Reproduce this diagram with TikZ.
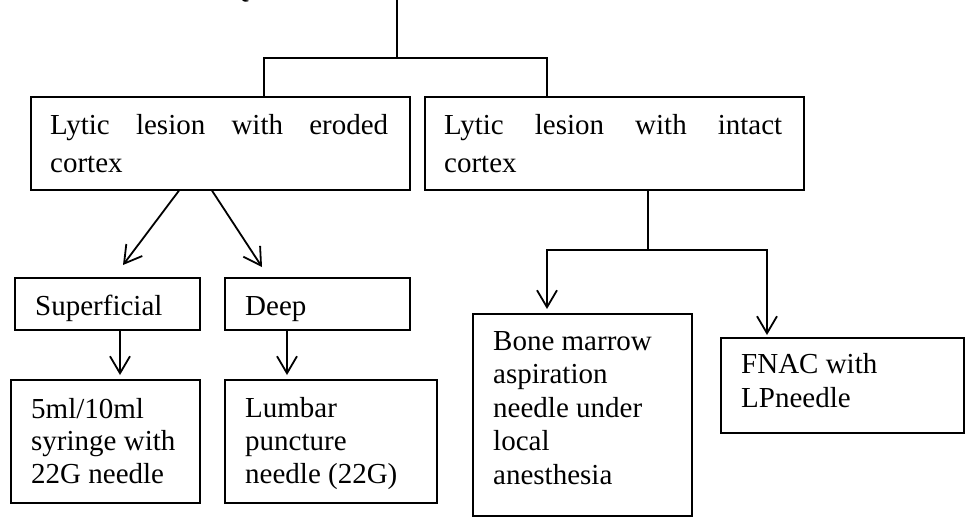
\documentclass[tikz,border=0pt]{standalone}
\usepackage{fontspec}
\setmainfont{Liberation Serif}
\usetikzlibrary{arrows.meta,calc}
\begin{document}
\begin{tikzpicture}[x=1pt,y=-1pt,
  box/.style={draw, line width=1.6pt, rectangle, inner sep=0pt, anchor=north west},
  txt/.style={anchor=base west, inner sep=0pt, font=\fontsize{29}{33.5}\selectfont},
  conn/.style={line width=1.8pt},
  arr/.style={line width=1.8pt, -{Straight Barb[length=17pt,width=20pt,line width=1.8pt]}}]
\useasboundingbox (0,0) rectangle (967,523);

% cut-off heading fragment
\node[txt] (q) at (228,-3) {Q};

% boxes
\node[box, minimum width=379pt, minimum height=93pt] (b1) at (30,96) {};
\node[box, minimum width=379pt, minimum height=93pt] (b2) at (424,96) {};
\node[box, minimum width=185pt, minimum height=52pt] (s1) at (14,277) {};
\node[box, minimum width=185pt, minimum height=52pt] (d1) at (224,277) {};
\node[box, minimum width=189pt, minimum height=123pt] (m1) at (10,379) {};
\node[box, minimum width=212pt, minimum height=123pt] (l1) at (224,379) {};
\node[box, minimum width=219pt, minimum height=202pt] (bm) at (472,313) {};
\node[box, minimum width=243pt, minimum height=95pt] (fn) at (720,337) {};

% texts
\node[txt] (t1) at (50,134) {\parbox[t]{338pt}{\fontsize{29}{38}\selectfont\makebox[338pt][s]{Lytic lesion with eroded}\\cortex}};
\node[txt] (t2) at (444,134) {\parbox[t]{338pt}{\fontsize{29}{38}\selectfont\makebox[338pt][s]{Lytic lesion with intact}\\cortex}};
\node[txt] (ts) at (35,315) {Superficial};
\node[txt] (td) at (245,315) {Deep};
\node[txt] (tm) at (31,418) {\parbox[t]{180pt}{\fontsize{29}{32.5}\selectfont\raggedright 5ml/10ml\\syringe with\\22G needle}};
\node[txt] (tl) at (245,417) {\parbox[t]{200pt}{\fontsize{29}{33}\selectfont\raggedright Lumbar\\puncture\\needle (22G)}};
\node[txt] (tb) at (493,350) {\parbox[t]{200pt}{\fontsize{29}{33.5}\selectfont\raggedright Bone marrow\\aspiration\\needle under\\local\\anesthesia}};
\node[txt] (tf) at (741,373) {\parbox[t]{200pt}{\fontsize{29}{34}\selectfont\raggedright FNAC with\\LPneedle}};

% top connectors
\coordinate (top) at (397,0);
\coordinate (j) at (397,58);
\draw[conn] (top) -- (j);
\draw[conn] (j) -| ($(b1.north west)+(234,0)$);
\draw[conn] (j) -| ($(b2.north west)+(123,0)$);

% left branch
\draw[arr] ($(b1.south west)+(149,0)$) -- ($(s1.north west)+(109,-12)$);
\draw[arr] ($(b1.south west)+(182,0)$) -- ($(d1.north west)+(38,-10)$);
\draw[arr] ($(s1.south west)+(106,0)$) -- ($(m1.north west)+(110,-4)$);
\draw[arr] ($(d1.south west)+(63,0)$) -- ($(l1.north west)+(63,-4)$);

% right branch
\coordinate (r1) at (648,250);
\draw[conn] ($(b2.south west)+(224,0)$) -- (r1);
\draw[arr] (r1) -| ($(bm.north west)+(75,-4)$);
\draw[arr] (r1) -| ($(fn.north west)+(47,-2)$);
\end{tikzpicture}
\end{document}
